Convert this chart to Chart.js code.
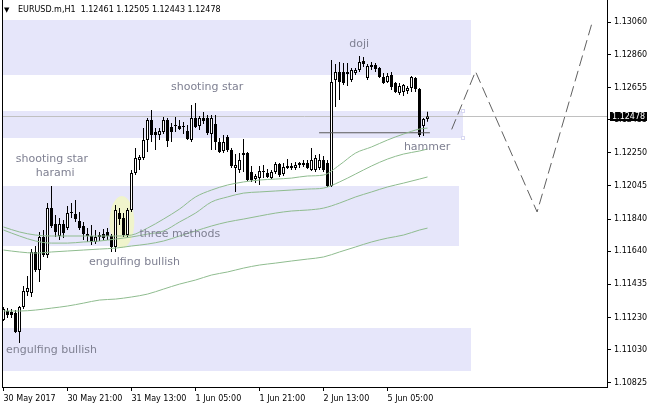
<!DOCTYPE html>
<html>
<head>
<meta charset="utf-8">
<title>EURUSD.m,H1</title>
<script src="https://cdn.jsdelivr.net/npm/chart.js@4.4.0/dist/chart.umd.min.js"></script>
<style>
  html, body { margin: 0; padding: 0; background: #fff; }
  canvas { display: block; }
</style>
</head>
<body>
<canvas id="myChart" width="651" height="408"></canvas>
<script>
//EURUSD.m H1 chart with candle pattern notes, zones and moving averages

//time labels on the x axis, one every 16 bars
var tickBars = [0, 16, 32, 48, 64, 80, 96];
var tickTimes = ["30 May 2017", "30 May 21:00", "31 May 13:00", "1 Jun 05:00", "1 Jun 21:00", "2 Jun 13:00", "5 Jun 05:00"];

//price labels on the right scale
var priceTicks = [1.13060, 1.12860, 1.12655, 1.12455, 1.12250, 1.12045, 1.11840, 1.11640, 1.11435, 1.11230, 1.11030, 1.10825];

//hourly candles
var opens = [1.11214,1.11270,1.11264,1.11257,1.11140,1.11295,1.11388,1.11381,1.11636,1.11524,
  1.11729,1.11617,1.11908,1.11809,1.11735,1.11809,1.11784,1.11877,1.11871,1.11828,
  1.11797,1.11747,1.11735,1.11698,1.11729,1.11747,1.11760,1.11735,1.11667,1.11877,
  1.11846,1.11741,1.11896,1.12125,1.12206,1.12218,1.12330,1.12454,1.12380,1.12361,
  1.12380,1.12454,1.12411,1.12417,1.12417,1.12417,1.12386,1.12330,1.12466,1.12417,
  1.12466,1.12466,1.12367,1.12429,1.12318,1.12262,1.12349,1.12268,1.12156,1.12144,
  1.12237,1.12249,1.12132,1.12088,1.12094,1.12138,1.12125,1.12094,1.12132,1.12181,
  1.12119,1.12169,1.12156,1.12156,1.12175,1.12175,1.12187,1.12144,1.12144,1.12156,
  1.12206,1.12187,1.12045,1.12702,1.12752,1.12752,1.12752,1.12702,1.12745,1.12764,
  1.12820,1.12714,1.12795,1.12795,1.12776,1.12721,1.12690,1.12733,1.12683,1.12621,
  1.12628,1.12634,1.12652,1.12714,1.12646,1.12417,1.12461];
var highs = [1.11295,1.11288,1.11282,1.11276,1.11301,1.11425,1.11487,1.11654,1.11673,1.11760,
  1.11772,1.11939,1.12045,1.11865,1.11846,1.11834,1.11921,1.11939,1.11958,1.11884,
  1.11822,1.11784,1.11803,1.11772,1.11760,1.11778,1.11784,1.11747,1.11927,1.11908,
  1.11877,1.11908,1.12144,1.12280,1.12237,1.12404,1.12466,1.12516,1.12404,1.12404,
  1.12473,1.12466,1.12435,1.12473,1.12454,1.12442,1.12423,1.12547,1.12559,1.12479,
  1.12504,1.12485,1.12485,1.12485,1.12342,1.12361,1.12361,1.12280,1.12243,1.12249,
  1.12336,1.12256,1.12169,1.12119,1.12169,1.12175,1.12150,1.12144,1.12194,1.12187,
  1.12187,1.12212,1.12187,1.12194,1.12194,1.12206,1.12206,1.12280,1.12237,1.12243,
  1.12231,1.12206,1.12826,1.12801,1.12814,1.12807,1.12807,1.12776,1.12776,1.12851,
  1.12845,1.12801,1.12814,1.12807,1.12783,1.12745,1.12745,1.12752,1.12690,1.12683,
  1.12677,1.12665,1.12727,1.12721,1.12652,1.12466,1.12505];
var lows = [1.11208,1.11226,1.11226,1.11133,1.11071,1.11282,1.11363,1.11357,1.11512,1.11450,
  1.11605,1.11598,1.11784,1.11729,1.11710,1.11722,1.11772,1.11846,1.11822,1.11772,
  1.11710,1.11698,1.11679,1.11685,1.11704,1.11710,1.11710,1.11636,1.11636,1.11803,
  1.11729,1.11722,1.11884,1.12113,1.12144,1.12206,1.12256,1.12318,1.12268,1.12330,
  1.12367,1.12287,1.12318,1.12380,1.12392,1.12367,1.12330,1.12318,1.12404,1.12392,
  1.12429,1.12361,1.12268,1.12268,1.12249,1.12249,1.12256,1.12156,1.12008,1.12125,
  1.12132,1.12076,1.12070,1.12063,1.12051,1.12094,1.12094,1.12088,1.12119,1.12101,
  1.12107,1.12150,1.12144,1.12144,1.12156,1.12163,1.12150,1.12138,1.12132,1.12144,
  1.12132,1.12039,1.12039,1.12535,1.12578,1.12671,1.12665,1.12690,1.12733,1.12752,
  1.12783,1.12702,1.12764,1.12752,1.12714,1.12677,1.12683,1.12640,1.12621,1.12609,
  1.12603,1.12615,1.12628,1.12628,1.12349,1.12355,1.12443];
var closes = [1.11282,1.11245,1.11245,1.11140,1.11295,1.11394,1.11412,1.11636,1.11524,1.11729,
  1.11617,1.11908,1.11797,1.11760,1.11809,1.11753,1.11877,1.11884,1.11840,1.11784,
  1.11747,1.11735,1.11698,1.11729,1.11741,1.11722,1.11735,1.11667,1.11896,1.11840,
  1.11741,1.11896,1.12125,1.12218,1.12225,1.12330,1.12454,1.12361,1.12361,1.12386,
  1.12454,1.12324,1.12380,1.12423,1.12398,1.12411,1.12336,1.12466,1.12411,1.12466,
  1.12448,1.12373,1.12466,1.12318,1.12256,1.12318,1.12268,1.12169,1.12175,1.12206,
  1.12249,1.12082,1.12082,1.12107,1.12138,1.12132,1.12101,1.12132,1.12181,1.12113,
  1.12163,1.12156,1.12169,1.12175,1.12187,1.12187,1.12156,1.12206,1.12218,1.12206,
  1.12144,1.12045,1.12690,1.12752,1.12690,1.12683,1.12739,1.12764,1.12764,1.12814,
  1.12801,1.12789,1.12783,1.12770,1.12721,1.12683,1.12727,1.12659,1.12628,1.12665,
  1.12671,1.12652,1.12721,1.12646,1.12361,1.12460,1.12478];

//moving averages
var maBars = [0,4,8,12,16,20,24,28,32,36,40,44,48,52,56,60,64,68,72,76,80,84,88,92,96,100,104,106];
var maFast = [1.11791,1.11760,1.11741,1.11735,1.11735,1.11735,1.11735,1.11735,1.11741,1.11784,1.11840,1.11902,1.11977,1.12020,
  1.12051,1.12070,1.12082,1.12088,1.12094,1.12107,1.12113,1.12175,1.12249,1.12287,1.12330,1.12367,1.12398,1.12404];
var maMid = [1.11772,1.11735,1.11704,1.11691,1.11691,1.11698,1.11704,1.11716,1.11729,1.11747,1.11766,1.11822,1.11877,1.11946,
  1.11977,1.12001,1.12008,1.12014,1.12020,1.12026,1.12032,1.12070,1.12119,1.12169,1.12212,1.12243,1.12262,1.12274];
var maSlow = [1.11648,1.11636,1.11629,1.11636,1.11642,1.11648,1.11654,1.11660,1.11673,1.11685,1.11704,1.11735,1.11766,1.11797,
  1.11822,1.11840,1.11859,1.11877,1.11890,1.11896,1.11908,1.11939,1.11977,1.12008,1.12039,1.12063,1.12088,1.12101];
var maLong = [1.11270,1.11270,1.11276,1.11288,1.11301,1.11319,1.11338,1.11344,1.11357,1.11375,1.11406,1.11437,1.11462,1.11493,
  1.11512,1.11536,1.11555,1.11567,1.11580,1.11592,1.11605,1.11636,1.11667,1.11698,1.11722,1.11741,1.11772,1.11784];

//rectangle zones (they start off the left side of the chart)
var zoneTop = [1.13074, 1.12510, 1.12045, 1.11164];
var zoneBottom = [1.12733, 1.12342, 1.11676, 1.10901];
var zoneEnd = [116.75, 114.9, 113.9, 116.75];

//"three methods" highlight
var ovalBar = 29.6, ovalPrice = 1.11822, ovalBars = 3.1, ovalPrices = 0.00161;

//hammer level
var hammerBars = [78.9, 106.6];
var hammerPrices = [1.12375, 1.12375];

//forecast zigzag
var zigBars = [112.05, 118, 133.4, 147.2];
var zigPrices = [1.12396, 1.12755, 1.11884, 1.13062];

//pattern notes
var noteText = ["shooting star", "shooting star", "harami", "doji", "three methods", "engulfing bullish", "engulfing bullish", "hammer"];
var noteBars = [50.9, 12.1, 12.9, 88.9, 44.1, 32.75, 12, 105.9];
var notePrices = [1.12659, 1.12212, 1.12125, 1.12925, 1.11747, 1.11574, 1.11025, 1.12287];

var last = opens.length - 1;
var axisFont = { family: "DejaVu Sans", size: 8 };

var wicks = [];
var bodies = [];
var bodyColors = [];
for (var i = 0; i < opens.length; i++) {
  wicks.push({ x: i, y: [lows[i], highs[i]] });
  bodies.push({ x: i, y: [opens[i], closes[i]] });
  bodyColors.push(closes[i] >= opens[i] ? "#ffffff" : "#000000");
}

function maPoints(values) {
  return maBars.map(function(b, k) { return { x: b, y: values[k] }; });
}
function linePoints(xs, ys) {
  return xs.map(function(b, k) { return { x: b, y: ys[k] }; });
}

//background objects, bid line, notes, title and price tag
var chartExtras = {
  id: "chartExtras",
  beforeDatasetsDraw: function(chart) {
    var ctx = chart.ctx, area = chart.chartArea;
    var xs = chart.scales.x, ys = chart.scales.y;
    ctx.save();
    ctx.beginPath();
    ctx.rect(area.left, area.top, area.right - area.left, area.bottom - area.top);
    ctx.clip();

    ctx.fillStyle = "#E6E6FA";
    for (var z = 0; z < zoneTop.length; z++) {
      var x2 = Math.round(xs.getPixelForValue(zoneEnd[z]));
      var y1 = Math.round(ys.getPixelForValue(zoneTop[z]));
      var y2 = Math.round(ys.getPixelForValue(zoneBottom[z]));
      ctx.fillRect(area.left, y1, x2 - area.left, y2 - y1);
    }
    //selected zone has handles on its right corners
    var hx = Math.round(xs.getPixelForValue(zoneEnd[1]));
    [zoneTop[1], zoneBottom[1]].forEach(function(p) {
      var hy = Math.round(ys.getPixelForValue(p));
      ctx.fillStyle = "#ffffff";
      ctx.fillRect(hx - 2, hy - 2, 4, 4);
      ctx.strokeStyle = "#D8D8F2";
      ctx.lineWidth = 1;
      ctx.strokeRect(hx - 1.5, hy - 1.5, 3, 3);
    });

    //three methods oval
    var cx = xs.getPixelForValue(ovalBar), cy = ys.getPixelForValue(ovalPrice);
    var rx = xs.getPixelForValue(ovalBar + ovalBars) - cx;
    var ry = ys.getPixelForValue(ovalPrice - ovalPrices) - cy;
    ctx.fillStyle = "rgb(240,244,204)";
    ctx.beginPath();
    ctx.ellipse(cx, cy, rx, ry, 0, 0, Math.PI * 2);
    ctx.fill();

    //bid line
    var by = Math.round(ys.getPixelForValue(closes[last])) + 0.5;
    ctx.strokeStyle = "#C0C0C0";
    ctx.lineWidth = 1;
    ctx.beginPath();
    ctx.moveTo(area.left, by);
    ctx.lineTo(area.right, by);
    ctx.stroke();
    ctx.restore();
  },
  afterDatasetsDraw: function(chart) {
    var ctx = chart.ctx;
    var xs = chart.scales.x, ys = chart.scales.y;
    ctx.save();
    ctx.font = '11px "DejaVu Sans"';
    ctx.fillStyle = "#7f8092";
    ctx.textAlign = "center";
    ctx.textBaseline = "middle";
    for (var n = 0; n < noteText.length; n++) {
      ctx.fillText(noteText[n], xs.getPixelForValue(noteBars[n]), ys.getPixelForValue(notePrices[n]));
    }
    ctx.restore();
  },
  afterDraw: function(chart) {
    var ctx = chart.ctx, area = chart.chartArea;
    var ys = chart.scales.y;
    ctx.save();
    //left frame line
    ctx.strokeStyle = "#000";
    ctx.lineWidth = 1;
    ctx.beginPath();
    ctx.moveTo(area.left + 0.5, 0);
    ctx.lineTo(area.left + 0.5, area.bottom);
    ctx.stroke();

    //title with the last bar's prices
    ctx.fillStyle = "#000";
    ctx.textBaseline = "middle";
    ctx.textAlign = "left";
    ctx.font = '7px "DejaVu Sans"';
    ctx.fillText("\u25BC", 4, 10);
    ctx.font = '8px "DejaVu Sans"';
    ctx.fillText("EURUSD.m,H1  " + opens[last].toFixed(5) + " " + highs[last].toFixed(5) + " " +
      lows[last].toFixed(5) + " " + closes[last].toFixed(5), 18, 10);

    //price tag on the scale
    var ty = Math.round(ys.getPixelForValue(closes[last]));
    ctx.fillStyle = "#000";
    ctx.fillRect(area.right + 3, ty - 4, 37, 9);
    ctx.fillStyle = "#fff";
    ctx.fillText(closes[last].toFixed(5), area.right + 5, ty + 0.5);
    ctx.restore();
  }
};

var ctx = document.getElementById("myChart").getContext("2d");
var chart = new Chart(ctx, {
  type: "bar",
  data: {
    datasets: [
      { type: "line", data: maPoints(maFast), borderColor: "#8FBC8F", borderWidth: 1, pointRadius: 0, cubicInterpolationMode: "monotone", order: 0 },
      { type: "line", data: maPoints(maMid), borderColor: "#8FBC8F", borderWidth: 1, pointRadius: 0, cubicInterpolationMode: "monotone", order: 0 },
      { type: "line", data: maPoints(maSlow), borderColor: "#8FBC8F", borderWidth: 1, pointRadius: 0, cubicInterpolationMode: "monotone", order: 0 },
      { type: "line", data: maPoints(maLong), borderColor: "#8FBC8F", borderWidth: 1, pointRadius: 0, cubicInterpolationMode: "monotone", order: 0 },
      { type: "line", data: linePoints(hammerBars, hammerPrices), borderColor: "#5a5a5a", borderWidth: 1, pointRadius: 0, order: 0 },
      { type: "line", data: linePoints(zigBars, zigPrices), borderColor: "#606060", borderWidth: 1, borderDash: [11, 5], pointRadius: 0, order: 0 },
      { data: bodies, backgroundColor: bodyColors, borderColor: "#000", borderWidth: 1, borderSkipped: false,
        barThickness: 3, grouped: false, inflateAmount: 0, minBarLength: 1, order: 1 },
      { data: wicks, backgroundColor: "#000", borderWidth: 0, barThickness: 1, grouped: false, inflateAmount: 0, order: 2 }
    ]
  },
  options: {
    responsive: false,
    devicePixelRatio: 1,
    animation: false,
    layout: { padding: { left: 2, top: 0, right: 0, bottom: 0 } },
    plugins: { legend: { display: false }, tooltip: { enabled: false } },
    scales: {
      x: {
        type: "linear",
        min: -0.375,
        max: 150.875,
        offset: false,
        grid: { offset: false, drawOnChartArea: false, drawTicks: true, tickLength: 4, tickColor: "#000" },
        border: { display: true, color: "#000" },
        afterBuildTicks: function(scale) {
          scale.ticks = tickBars.map(function(b) { return { value: b }; });
        },
        ticks: {
          autoSkip: false, maxRotation: 0, minRotation: 0, align: "start", padding: 3,
          color: "#000", font: axisFont,
          callback: function(value) {
            var k = tickBars.indexOf(value);
            return k < 0 ? "" : tickTimes[k];
          }
        },
        afterFit: function(scale) { scale.height = 21; scale.paddingLeft = 0; scale.paddingRight = 0; }
      },
      y: {
        type: "linear",
        position: "right",
        min: 1.10799,
        max: 1.13198,
        grid: { drawOnChartArea: false, drawTicks: true, tickLength: 4, tickColor: "#000" },
        border: { display: true, color: "#000" },
        afterBuildTicks: function(scale) {
          scale.ticks = priceTicks.map(function(p) { return { value: p }; });
        },
        ticks: {
          padding: 3, color: "#000", font: axisFont,
          callback: function(value) { return value.toFixed(5); }
        },
        afterFit: function(scale) { scale.width = 44; scale.paddingTop = 0; scale.paddingBottom = 0; }
      }
    }
  },
  plugins: [chartExtras]
});
</script>
</body>
</html>
